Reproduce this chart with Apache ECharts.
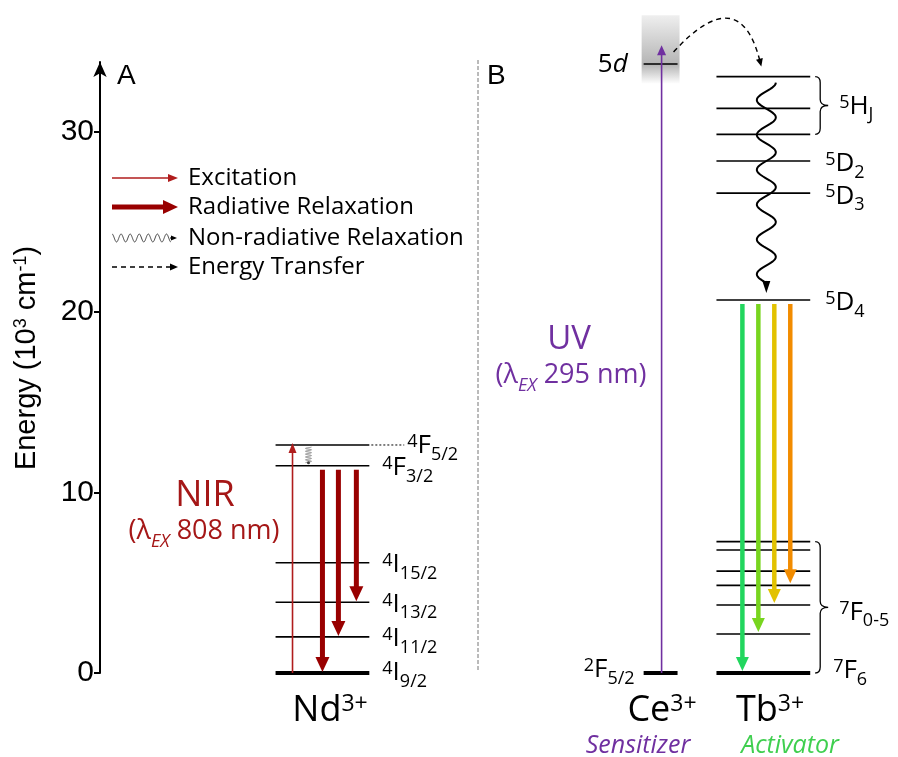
<!DOCTYPE html>
<html>
<head>
<meta charset="utf-8">
<script src="https://cdn.jsdelivr.net/npm/echarts@6/dist/echarts.min.js"></script>
<style>html,body{margin:0;background:#fff}#chart{width:898px;height:757px}</style>
</head>
<body>
<div id="chart"></div>
<script>
// energy levels (10^3 cm^-1)
var yTicks = [0, 10, 20, 30];
var ndLevels = [0, 2.0, 3.92, 6.11, 11.49, 12.64];
var ndTerms = [['4', 'I', '9/2'], ['4', 'I', '11/2'], ['4', 'I', '13/2'], ['4', 'I', '15/2'], ['4', 'F', '3/2'], ['4', 'F', '5/2']];
var ceLevels = [0, 33.76];
var tbLevels = [0, 2.16, 3.77, 4.86, 5.65, 6.82, 7.28, 20.68, 26.6, 28.38, 29.86, 31.3, 33.06];
var tbNamedLevels = [0, 20.68, 26.6, 28.38];
var tbNamedTerms = [['7', 'F', '6'], ['5', 'D', '4'], ['5', 'D', '3'], ['5', 'D', '2']];
var tbGroupRanges = [[29.86, 33.06], [0, 7.28]];
var tbGroupTerms = [['5', 'H', 'J'], ['7', 'F', '0-5']];
// transitions [from, to]
var ndExcitation = [0, 12.64];
var ndNonRad = [12.64, 11.49];
var ndEmission = [[11.49, 0], [11.49, 2.0], [11.49, 3.92]];
var ceExcitation = [0, 34.8];
var energyTransfer = [33.76, 33.06];
var tbNonRad = [33.06, 20.68];
var tbEmission = [[20.68, 0], [20.68, 2.16], [20.68, 3.77], [20.68, 4.86]];
var legendItems = ['Excitation', 'Radiative Relaxation', 'Non-radiative Relaxation', 'Energy Transfer'];

// layout / style
var SANS = '"Open Sans", "Noto Sans", sans-serif';
var ARIAL = '"Liberation Sans", Arial, sans-serif';
var RED = '#a51717', DARKRED = '#990000', PURPLE = '#7030a0', GREEN = '#3fcf4f';
var COL = { nd: [176, 270], ce: [545, 579], tb: [618, 712] };
var ND_EXC_X = 193, ND_NR_X = 209, ND_EM_X = [223, 239, 257];
var CE_EXC_X = 563, TB_NR_X = 668, TB_EM_X = [644, 660, 676, 692];
var TB_COLORS = ['#22d65e', '#78d51f', '#e2c200', '#f28c00'];
var ST = {
  exc: { color: '#b01c1c', lw: 1.6, hl: 10, hw: 8 },
  rad: { color: DARKRED, lw: 5, hl: 15, hw: 14 },
  uv: { color: PURPLE, lw: 1.6, hl: 10, hw: 9 },
  em: { lw: 4.5, hl: 14, hw: 13 },
  nr: { color: '#000', lw: 2, hl: 12, hw: 8 },
  et: { color: '#000', lw: 1.4, hl: 8, hw: 7, dash: [5, 4] },
  small: { color: '#000', lw: 1, hl: 6, hw: 5 }
};

var mctx = document.createElement('canvas').getContext('2d');
function rt(parts, x, y, o) {
  var fam = o.family || SANS, size = o.size, ss = o.small || Math.round(size * 0.65);
  var items = parts.map(function (p) {
    var k = p[1], sup = k.indexOf('p') >= 0, sub = k.indexOf('b') >= 0, it = k.indexOf('i') >= 0;
    var sz = (sup || sub) ? ss : size;
    var f = (it ? 'italic ' : '') + sz + 'px ' + fam;
    mctx.font = f;
    var dy = sup ? -0.36 * (size - ss) - (o.supUp || 1) : (sub ? (o.subDy || 0.36) * size : 0);
    return { t: p[0], f: f, w: mctx.measureText(p[0]).width, dy: dy };
  });
  var total = items.reduce(function (a, b) { return a + b.w; }, 0);
  var cx = o.align === 'center' ? x - total / 2 : (o.align === 'right' ? x - total : x);
  return items.map(function (it) {
    var el = { type: 'text', x: cx, y: y + it.dy, silent: true,
      style: { text: it.t, font: it.f, fill: o.color || '#000', align: 'left', verticalAlign: 'middle', textAlign: 'left', textVerticalAlign: 'middle' } };
    cx += it.w;
    return el;
  });
}
function termParts(t) {
  var parts = [[t[0], 'p'], [t[1], 'n']];
  if (t[2]) parts.push([t[2], 'b']);
  return parts;
}
function arrowEls(x1, y1, x2, y2, st, color) {
  var dx = x2 - x1, dy = y2 - y1, len = Math.sqrt(dx * dx + dy * dy) || 1;
  var ux = dx / len, uy = dy / len, nx = -uy, ny = ux;
  var bx = x2 - ux * st.hl, by = y2 - uy * st.hl;
  var c = color || st.color;
  return [
    { type: 'line', shape: { x1: x1, y1: y1, x2: x2 - ux * st.hl * 0.7, y2: y2 - uy * st.hl * 0.7 },
      style: { stroke: c, lineWidth: st.lw, lineDash: st.dash || null } },
    { type: 'polygon', shape: { points: [[x2, y2], [bx + nx * st.hw / 2, by + ny * st.hw / 2], [bx - nx * st.hw / 2, by - ny * st.hw / 2]] },
      style: { fill: c } }
  ];
}
function waveEl(x1, y1, x2, y2, amp, periods, color, lw) {
  var dx = x2 - x1, dy = y2 - y1, len = Math.sqrt(dx * dx + dy * dy), ux = dx / len, uy = dy / len;
  var pts = [];
  for (var k = 0; k <= 160; k++) {
    var t = k / 160, off = amp * Math.cos(2 * Math.PI * periods * t);
    pts.push([x1 + ux * t * len + uy * off, y1 + uy * t * len - ux * off]);
  }
  return { type: 'polyline', shape: { points: pts }, style: { stroke: color, lineWidth: lw, fill: 'none' } };
}
function braceEl(x, yTop, yBot, w) {
  var mid = (yTop + yBot) / 2, r = 6;
  var d = 'M' + (x - 5) + ' ' + yTop + ' Q' + x + ' ' + yTop + ' ' + x + ' ' + (yTop + r) +
    ' L' + x + ' ' + (mid - r) + ' Q' + x + ' ' + mid + ' ' + (x + w) + ' ' + mid +
    ' Q' + x + ' ' + mid + ' ' + x + ' ' + (mid + r) +
    ' L' + x + ' ' + (yBot - r) + ' Q' + x + ' ' + yBot + ' ' + (x - 5) + ' ' + yBot;
  return { type: 'path', shape: { pathData: d }, style: { stroke: '#000', lineWidth: 1.3, fill: 'none' } };
}

// rows built from the data arrays
var levelRows = [];
ndLevels.forEach(function (e, i) { levelRows.push([COL.nd[0], COL.nd[1], e, i === 0 ? 4 : 1.6]); });
ceLevels.forEach(function (e, i) { levelRows.push([COL.ce[0], COL.ce[1], e, i === 0 ? 4 : 1.6]); });
tbLevels.forEach(function (e, i) { levelRows.push([COL.tb[0], COL.tb[1], e, i === 0 ? 4 : 1.6]); });

var labelSpecs = [];
ndLevels.forEach(function (e, i) {
  if (i === 5) labelSpecs.push({ x: COL.nd[1] + 38, e: e, parts: termParts(ndTerms[i]), dy: 1, lead: COL.nd[1] + 2 });
  else labelSpecs.push({ x: COL.nd[1] + 13, e: e, parts: termParts(ndTerms[i]), dy: i === 0 ? 0 : 2 });
});
labelSpecs.push({ x: COL.ce[0] - 9, e: ceLevels[0], parts: [['2', 'p'], ['F', 'n'], ['5/2', 'b']], dy: -3, align: 'right' });
labelSpecs.push({ x: COL.ce[0] - 16, e: ceLevels[1], parts: [['5', 'n'], ['d', 'i']], dy: 1, align: 'right' });
tbNamedLevels.forEach(function (e, i) {
  labelSpecs.push({ x: COL.tb[1] + (i === 0 ? 23 : 15), e: e, parts: termParts(tbNamedTerms[i]), dy: i === 0 ? -2 : 3 });
});
tbGroupRanges.forEach(function (r, i) {
  labelSpecs.push({ x: COL.tb[1] + 29, e: (r[0] + r[1]) / 2, parts: termParts(tbGroupTerms[i]), dy: i === 0 ? 1 : 5 });
});

var arrowRows = [];
arrowRows.push({ x: ND_EXC_X, from: ndExcitation[0], to: ndExcitation[1], st: ST.exc, g0: 0, g1: -2 });
ndEmission.forEach(function (t, i) { arrowRows.push({ x: ND_EM_X[i], from: t[0], to: t[1], st: ST.rad, g0: 4, g1: 1 }); });
arrowRows.push({ x: CE_EXC_X, from: ceExcitation[0], to: ceExcitation[1], st: ST.uv, g0: 0, g1: 0 });
tbEmission.forEach(function (t, i) { arrowRows.push({ x: TB_EM_X[i], from: t[0], to: t[1], st: ST.em, color: TB_COLORS[i], g0: 4, g1: 2 }); });

var chart = echarts.init(document.getElementById('chart'));
var option = {
  animation: false,
  backgroundColor: '#fff',
  grid: { left: 100, top: 62, width: 800, bottom: 84 },
  xAxis: { type: 'value', min: 0, max: 800, show: false },
  yAxis: {
    type: 'value', min: 0, max: 33.87, interval: 10,
    axisLine: { show: true, symbol: ['none', 'arrow'], symbolSize: [10, 15], lineStyle: { color: '#000', width: 2 } },
    axisTick: { show: true, length: 6, customValues: yTicks, lineStyle: { color: '#000', width: 2 } },
    axisLabel: { customValues: yTicks, fontSize: 30, fontFamily: ARIAL, color: '#000', margin: 6 },
    splitLine: { show: false }
  },
  graphic: [],
  series: [
    { // 5d band
      type: 'custom', silent: true, data: [[COL.ce[0], ceLevels[1]]],
      renderItem: function (params, api) {
        var e = ceLevels[1];
        var a = api.coord([COL.ce[0] - 2, e + 2.7]), b = api.coord([COL.ce[1] + 2, e - 1.1]);
        return { type: 'rect', shape: { x: a[0], y: a[1], width: b[0] - a[0], height: b[1] - a[1] },
          style: { fill: new echarts.graphic.LinearGradient(0, 0, 0, 1, [
            { offset: 0, color: '#efefef' }, { offset: 0.72, color: '#b4b4b4' }, { offset: 1, color: '#ffffff' }]) } };
      }
    },
    { // levels
      type: 'custom', silent: true, data: levelRows, encode: { x: [0, 1], y: 2 },
      renderItem: function (params, api) {
        var a = api.coord([api.value(0), api.value(2)]), b = api.coord([api.value(1), api.value(2)]);
        return { type: 'line', shape: { x1: a[0], y1: a[1], x2: b[0], y2: b[1] }, style: { stroke: '#000', lineWidth: api.value(3) } };
      }
    },
    { // level labels
      type: 'custom', silent: true, data: labelSpecs.map(function (s) { return [s.x, s.e]; }),
      renderItem: function (params, api) {
        var s = labelSpecs[params.dataIndex];
        var p = api.coord([s.x, s.e]);
        var ch = rt(s.parts, p[0], p[1] + s.dy, { size: 26, small: 18, align: s.align || 'left', subDy: 0.34 });
        if (s.lead != null) {
          var q = api.coord([s.lead, s.e]);
          ch.push({ type: 'line', shape: { x1: q[0], y1: q[1], x2: p[0] - 3, y2: q[1] }, style: { stroke: '#000', lineWidth: 1, lineDash: [2, 2] } });
        }
        return { type: 'group', children: ch };
      }
    },
    { // braces
      type: 'custom', silent: true, data: tbGroupRanges.map(function (r) { return [COL.tb[1] + 9, r[1]]; }),
      renderItem: function (params, api) {
        var r = tbGroupRanges[params.dataIndex];
        var a = api.coord([COL.tb[1] + 10, r[1]]), b = api.coord([COL.tb[1] + 10, r[0]]);
        return braceEl(a[0], a[1], b[1], 8);
      }
    },
    { // straight arrows
      type: 'custom', silent: true, data: arrowRows.map(function (r) { return [r.x, r.from]; }),
      renderItem: function (params, api) {
        var r = arrowRows[params.dataIndex];
        var p0 = api.coord([r.x, r.from]), p1 = api.coord([r.x, r.to]);
        var s = p1[1] > p0[1] ? 1 : -1;
        return { type: 'group', children: arrowEls(p0[0], p0[1] + s * r.g0, p1[0], p1[1] - s * r.g1, r.st, r.color) };
      }
    },
    { // non-radiative relaxation
      type: 'custom', silent: true, data: [[TB_NR_X, tbNonRad[0]], [ND_NR_X, ndNonRad[0]]],
      renderItem: function (params, api) {
        if (params.dataIndex === 0) {
          var a = api.coord([TB_NR_X, tbNonRad[0]]), b = api.coord([TB_NR_X, tbNonRad[1]]);
          var y0 = a[1] + 6, tip = b[1] - 7, base = tip - ST.nr.hl;
          var ch = [waveEl(a[0], y0, a[0], base + 2, 9.5, 5.75, '#000', 2)];
          ch = ch.concat(arrowEls(a[0], base, a[0], tip, ST.nr));
          return { type: 'group', children: ch };
        }
        var c = api.coord([ND_NR_X, ndNonRad[0]]), d = api.coord([ND_NR_X, ndNonRad[1]]);
        return { type: 'group', children: [
          waveEl(c[0], c[1] + 2, c[0], d[1] - 3, 3, 5.5, '#8a8a8a', 1),
          { type: 'circle', shape: { cx: c[0], cy: d[1] - 3, r: 1.5 }, style: { fill: '#444' } }
        ] };
      }
    },
    { // energy transfer
      type: 'custom', silent: true, data: [[COL.ce[1], energyTransfer[0]]],
      renderItem: function (params, api) {
        var s = api.coord([COL.ce[1] - 4, energyTransfer[0]]), e = api.coord([COL.tb[0] + 45, energyTransfer[1]]);
        var sx = s[0], sy = s[1] - 12, ex = e[0], ey = e[1] - 10;
        var cx = (sx + ex) / 2 + 22, cy = Math.min(sy, ey) - 72;
        var dx = ex - cx, dy = ey - cy, len = Math.sqrt(dx * dx + dy * dy);
        var hx = ex - dx / len * ST.et.hl * 0.7, hy = ey - dy / len * ST.et.hl * 0.7;
        var head = arrowEls(ex - dx / len * 20, ey - dy / len * 20, ex, ey, ST.et)[1];
        return { type: 'group', children: [
          { type: 'bezierCurve', shape: { x1: sx, y1: sy, x2: hx, y2: hy, cpx1: cx, cpy1: cy },
            style: { stroke: '#000', lineWidth: 1.4, lineDash: [5, 4], fill: 'none' } },
          head
        ] };
      }
    }
  ]
};

// texts and legend
var g = option.graphic;
function addText(parts, x, y, o) { g.push({ type: 'group', silent: true, children: rt(parts, x, y, o) }); }
addText([['A', 'n']], 117, 76, { size: 28, family: ARIAL });
addText([['B', 'n']], 487, 76, { size: 28, family: ARIAL });
g.push({ type: 'group', x: 27, y: 358, rotation: Math.PI / 2, silent: true,
  children: rt([['Energy (10', 'n'], ['3', 'p'], [' cm', 'n'], ['-1', 'p'], [')', 'n']], 0, 0, { size: 29, small: 18, family: ARIAL, align: 'center', supUp: 2 }) });
g.push({ type: 'line', silent: true, shape: { x1: 478, y1: 60, x2: 478, y2: 672 }, style: { stroke: '#777', lineWidth: 1, lineDash: [4, 2] } });

var legY = [178, 207, 238, 267];
legendItems.forEach(function (name, i) {
  var y = legY[i], ch = [];
  if (i === 0) ch = arrowEls(112, y, 178, y, ST.exc);
  else if (i === 1) ch = arrowEls(112, y, 178, y, ST.rad);
  else if (i === 2) ch = [waveEl(112, y, 171, y, 4, 6.5, '#444', 1)].concat(arrowEls(170, y, 177, y, ST.small));
  else ch = arrowEls(112, y, 178, y, ST.et);
  g.push({ type: 'group', silent: true, children: ch });
  addText([[name, 'n']], 188, y, { size: 24 });
});

addText([['NIR', 'n']], 205, 496, { size: 36, color: RED, align: 'center' });
addText([['(λ', 'n'], ['EX', 'bi'], [' 808 nm)', 'n']], 204, 531, { size: 27, small: 18, color: RED, align: 'center', subDy: 0.42 });
addText([['UV', 'n']], 569, 340, { size: 33, color: PURPLE, align: 'center' });
addText([['(λ', 'n'], ['EX', 'bi'], [' 295 nm)', 'n']], 571, 375, { size: 27, small: 18, color: PURPLE, align: 'center', subDy: 0.42 });
addText([['Nd', 'n'], ['3+', 'p']], 330, 711, { size: 36, small: 23, align: 'center', supUp: 2 });
addText([['Ce', 'n'], ['3+', 'p']], 662, 711, { size: 36, small: 23, align: 'center', supUp: 2 });
addText([['Tb', 'n'], ['3+', 'p']], 770, 711, { size: 36, small: 23, align: 'center', supUp: 2 });
addText([['Sensitizer', 'i']], 638, 746, { size: 25, color: PURPLE, align: 'center' });
addText([['Activator', 'i']], 790, 746, { size: 25, color: GREEN, align: 'center' });

chart.setOption(option);
window.addEventListener('resize', function () { chart.resize(); });
</script>
</body>
</html>
